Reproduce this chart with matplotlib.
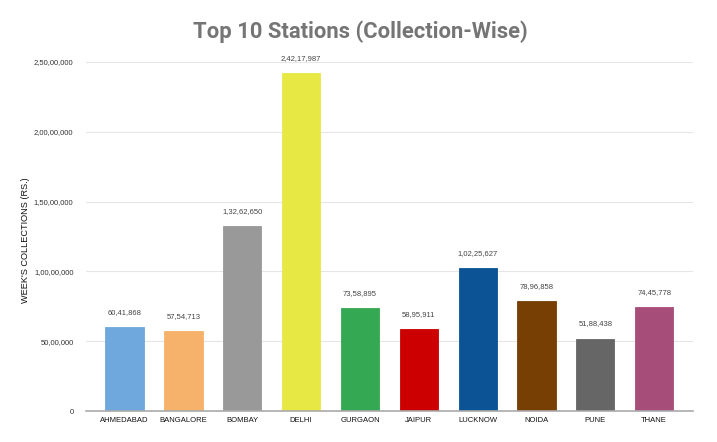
import matplotlib
matplotlib.use("Agg")
import matplotlib.pyplot as plt
from matplotlib.ticker import FuncFormatter

stations = ["AHMEDABAD", "BANGALORE", "BOMBAY", "DELHI", "GURGAON",
            "JAIPUR", "LUCKNOW", "NOIDA", "PUNE", "THANE"]
collections = [6041868, 5754713, 13262650, 24217987, 7358895,
               5895911, 10225627, 7896858, 5188438, 7445778]
colors = ["#6fa8dc", "#f6b26b", "#999999", "#e8e845", "#34a853",
          "#cc0000", "#0b5394", "#783f04", "#666666", "#a64d79"]
y_ticks = [0, 5000000, 10000000, 15000000, 20000000, 25000000]


def indian(n):
    s = str(int(n))
    if len(s) <= 3:
        return s
    last3 = s[-3:]
    rest = s[:-3]
    parts = []
    while len(rest) > 2:
        parts.insert(0, rest[-2:])
        rest = rest[:-2]
    if rest:
        parts.insert(0, rest)
    return ",".join(parts + [last3])


plt.rcParams['font.family'] = ['Liberation Sans', 'DejaVu Sans']
fig = plt.figure(figsize=(7.17, 4.42), dpi=100)
ax = fig.add_axes([0.120, 0.0701, 0.8465, 0.7896])

x = list(range(len(stations)))
bars = ax.bar(x, collections, width=0.65, color=colors, zorder=3,
              edgecolor=colors, linewidth=0.6)
for xi, v in zip(x, collections):
    ax.annotate(indian(v), (xi, v), xytext=(0, 8), textcoords="offset points",
                ha="center", va="bottom", fontsize=5.5, color="#444444",
                annotation_clip=False)

ax.set_xlim(-0.655, 9.66)
ax.set_ylim(0, 25000000)
ax.set_yticks(y_ticks)
ax.yaxis.set_major_formatter(FuncFormatter(lambda v, p: indian(v)))
ax.set_xticks(x)
ax.set_xticklabels(stations)
ax.tick_params(axis="x", length=0, labelsize=5.5, labelcolor="#111111", pad=4)
ax.tick_params(axis="y", length=0, labelsize=5.5, labelcolor="#333333", pad=9)
ax.grid(axis="y", color="#e6e6e6", linewidth=0.8, zorder=0)
for s in ["top", "right", "left"]:
    ax.spines[s].set_visible(False)
ax.spines["bottom"].set_color("#aaaaaa")
ax.spines["bottom"].set_linewidth(1.2)
ax.spines["bottom"].set_zorder(4)

fig.text(26 / 717, 1 - 240 / 442, "WEEK'S COLLECTIONS (RS.)", rotation=90,
         ha="center", va="center", fontsize=6.6, color="#111111")
fig.text(0.502, 0.928, "Top 10 Stations (Collection-Wise)", ha="center", va="center",
         fontsize=15.8, fontweight="bold", color="#757575", family=["Roboto", "DejaVu Sans"])

fig.savefig("out.png", dpi=100)
